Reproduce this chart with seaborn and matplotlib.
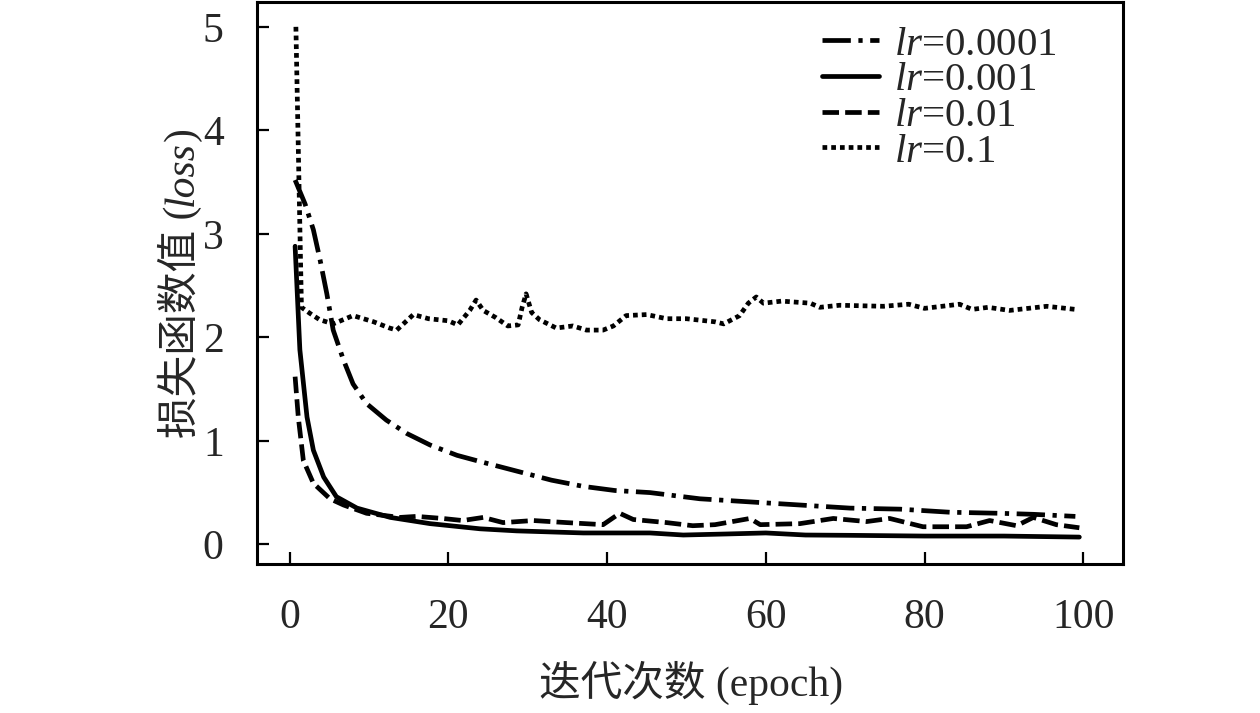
import pandas as pd
import matplotlib.pyplot as plt
import seaborn as sns

sns.set_style("ticks")
plt.rcParams['font.family'] = ['Liberation Serif', 'Noto Sans CJK SC']
plt.rcParams['mathtext.fontset'] = 'custom'
plt.rcParams['mathtext.rm'] = 'Liberation Serif'
plt.rcParams['mathtext.it'] = 'Liberation Serif:italic'

# values
epoch_1e4 = [0.7, 1.95, 3.0, 3.84, 4.7, 5.5, 6.8, 8.0, 9.7, 12.2, 14.8, 17.7, 21.1, 24, 26.5,
             30, 33, 37, 41, 45.4, 51.7, 58, 64.3, 70.6, 76.9, 83.2, 89.5, 93.7, 99]
loss_1e4 = [3.52, 3.29, 3.04, 2.75, 2.42, 2.07, 1.78, 1.55, 1.36, 1.2, 1.07, 0.96, 0.86, 0.80, 0.75,
            0.68, 0.62, 0.56, 0.52, 0.50, 0.44, 0.41, 0.38, 0.35, 0.34, 0.31, 0.30, 0.29, 0.27]

epoch_1e3 = [0.7, 1.3, 2.2, 3.0, 4.3, 5.9, 8.5, 12.7, 17.7, 24, 28.6, 32.8, 37,
             45.4, 49.6, 55, 60, 65, 70.6, 80, 90, 99.5]
loss_1e3 = [2.88, 1.88, 1.23, 0.91, 0.65, 0.46, 0.35, 0.26, 0.20, 0.15, 0.13, 0.12, 0.11,
            0.11, 0.09, 0.10, 0.11, 0.09, 0.087, 0.08, 0.08, 0.07]

epoch_1e2 = [0.7, 1.1, 1.74, 3.0, 5.1, 6.8, 9.7, 11.8, 13.9, 16, 19.3, 21.8, 24.4, 26.9,
             30.7, 34.9, 39.5, 41.6, 43.3, 47.5, 50.8, 53.6, 58, 59.3, 64.3, 68.5, 72.7, 75.6,
             79.8, 85.3, 88.2, 91.6, 93.7, 96.6, 99.5]
loss_1e2 = [1.62, 1.23, 0.81, 0.59, 0.44, 0.38, 0.30, 0.28, 0.26, 0.27, 0.25, 0.23, 0.26, 0.21,
            0.23, 0.21, 0.19, 0.30, 0.24, 0.21, 0.18, 0.19, 0.25, 0.19, 0.20, 0.25, 0.22, 0.25,
            0.17, 0.17, 0.23, 0.18, 0.26, 0.19, 0.16]

epoch_1e1 = [0.8, 1.5, 2.6, 3.8, 5.5, 8.0, 10.6, 12.6, 13.5, 15.6, 17.5, 20, 21.2, 22.7, 23.5, 24.4,
             26, 27.5, 28.8, 29.3, 29.8, 30.5, 31.5, 33.6, 35.7, 37.4, 39.5, 40.8, 42.4, 45, 47.5,
             50, 53.6, 54.7, 56.7, 57.8, 58.8, 59.7, 62, 65.6, 66.8, 69.3, 74.8, 78, 80, 84.4,
             86, 88, 90.7, 95.4, 99]
loss_1e1 = [5.0, 2.29, 2.23, 2.17, 2.13, 2.21, 2.15, 2.09, 2.07, 2.22, 2.18, 2.16, 2.12, 2.26,
            2.36, 2.26, 2.19, 2.11, 2.12, 2.29, 2.42, 2.24, 2.17, 2.09, 2.11, 2.07, 2.07, 2.11,
            2.21, 2.22, 2.18, 2.18, 2.15, 2.13, 2.21, 2.33, 2.39, 2.33, 2.35, 2.33, 2.29, 2.31,
            2.30, 2.32, 2.28, 2.32, 2.27, 2.29, 2.26, 2.30, 2.27]

lr_labels = ['$lr$=0.0001', '$lr$=0.001', '$lr$=0.01', '$lr$=0.1']
x_ticks = [0, 20, 40, 60, 80, 100]
y_ticks = [0, 1, 2, 3, 4, 5]

frames = []
for lab, ep, ls in zip(lr_labels, [epoch_1e4, epoch_1e3, epoch_1e2, epoch_1e1],
                       [loss_1e4, loss_1e3, loss_1e2, loss_1e1]):
    frames.append(pd.DataFrame({'epoch': ep, 'loss': ls, 'lr': lab}))
df = pd.concat(frames, ignore_index=True)

dash_map = {
    lr_labels[0]: (6, 1.6, 0.9, 1.6),
    lr_labels[1]: "",
    lr_labels[2]: (3.5, 1.3),
    lr_labels[3]: (1, 0.85),
}

fig = plt.figure(figsize=(12.6, 7.13), dpi=100)
ax = fig.add_axes([257 / 1260, 1 - 564 / 713, 866 / 1260, 562 / 713])

sns.lineplot(data=df, x='epoch', y='loss', style='lr', style_order=lr_labels,
             dashes=dash_map, color='black', linewidth=3.4, sort=False, ax=ax)

ax.set_xlim(-4.1, 105)
ax.set_ylim(-0.19, 5.24)
ax.set_xticks(x_ticks)
ax.set_yticks(y_ticks)
ax.tick_params(direction='in', length=8.5, width=1.6, labelsize=30, color='black')
ax.tick_params(axis='x', pad=25)
ax.tick_params(axis='y', pad=24)
for sp in ax.spines.values():
    sp.set_visible(True)
    sp.set_linewidth(2.2)
    sp.set_color('black')

ax.set_xlabel('')
ax.set_ylabel('')
fig.text(691 / 1260, 1 - 683 / 713, '迭代次数 (epoch)', ha='center', va='center', fontsize=30)

# y label: "损失函数值 (loss)" with italic loss
t1 = fig.text(202 / 1260, 1 - 438 / 713, '损失函数值 (', rotation=90, ha='right', va='bottom',
              fontsize=30)
t2 = ax.annotate('loss', xy=(1, 1), xycoords=t1, rotation=90, ha='right', va='bottom',
                 fontsize=30, style='italic', family='Liberation Serif', annotation_clip=False)
ax.annotate(')', xy=(1, 1), xycoords=t2, rotation=90, ha='right', va='bottom',
            fontsize=30, family='Liberation Serif', annotation_clip=False)

leg = ax.get_legend()
handles = leg.legend_handles
labels = [t.get_text() for t in leg.get_texts()]
for h in handles:
    h.set_linewidth(3.4)
    h.set_color('black')
ax.legend(handles, labels, loc='upper left', bbox_to_anchor=(822 / 1260, 1 - 26 / 713),
          bbox_transform=fig.transFigure, frameon=False, fontsize=29.5, borderpad=0,
          borderaxespad=0, handlelength=1.4, handletextpad=0.35, labelspacing=-0.05)

fig.savefig('out.png', dpi=100)
